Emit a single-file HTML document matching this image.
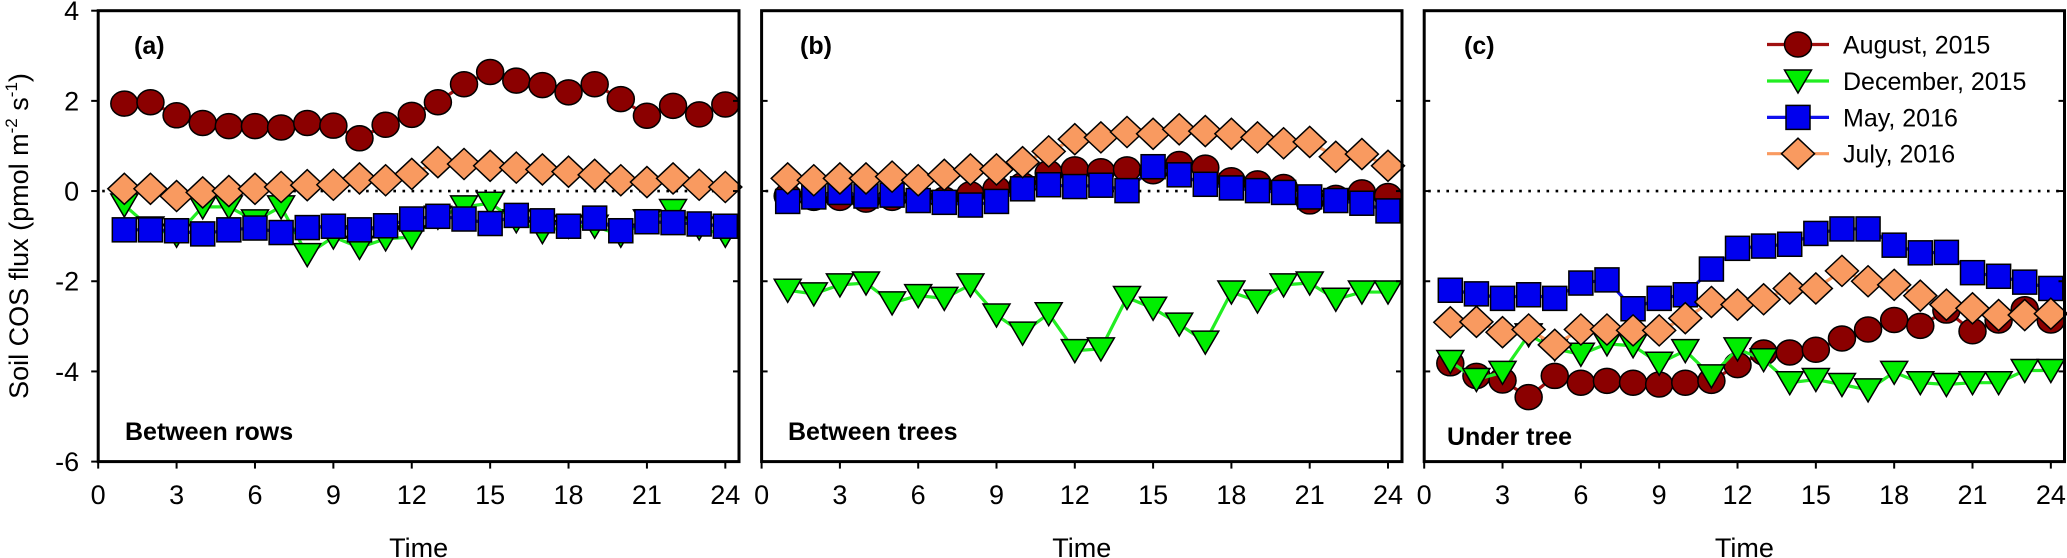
<!DOCTYPE html>
<html><head><meta charset="utf-8"><style>
html,body{margin:0;padding:0;background:#fff;}
svg{display:block;font-family:"Liberation Sans",Arial,sans-serif;}
</style></head><body>
<svg id="chart" width="2067" height="558" viewBox="0 0 2067 558" xmlns="http://www.w3.org/2000/svg"></svg>
<script>
const hours = [1,2,3,4,5,6,7,8,9,10,11,12,13,14,15,16,17,18,19,20,21,22,23,24];
const xTicks = [0,3,6,9,12,15,18,21,24];
const yTicks = [4,2,0,-2,-4,-6];
const seriesNames = ["August, 2015","December, 2015","May, 2016","July, 2016"];
// Panel a: Between rows
const aAug = [1.94,1.97,1.68,1.51,1.44,1.44,1.41,1.51,1.45,1.17,1.47,1.69,1.97,2.37,2.64,2.45,2.35,2.19,2.37,2.04,1.67,1.89,1.70,1.92];
const aDec = [-0.31,-0.82,-0.98,-0.35,-0.35,-0.66,-0.35,-1.41,-1.02,-1.25,-1.06,-1.02,-0.58,-0.35,-0.27,-0.66,-0.90,-0.78,-0.78,-0.98,-0.66,-0.43,-0.82,-0.98];
const aMay = [-0.86,-0.86,-0.88,-0.95,-0.86,-0.82,-0.92,-0.81,-0.78,-0.86,-0.77,-0.62,-0.56,-0.62,-0.72,-0.54,-0.66,-0.78,-0.60,-0.88,-0.68,-0.70,-0.73,-0.78];
const aJul = [0.05,0.05,-0.11,-0.03,0.00,0.05,0.09,0.13,0.14,0.28,0.24,0.38,0.64,0.60,0.56,0.52,0.48,0.43,0.36,0.24,0.20,0.28,0.14,0.09];
// Panel b: Between trees
const bAug = [-0.11,-0.15,-0.15,-0.19,-0.15,-0.15,-0.19,-0.07,0.05,0.13,0.40,0.48,0.44,0.48,0.44,0.60,0.52,0.24,0.17,0.09,-0.23,-0.15,-0.03,-0.11];
const bDec = [-2.20,-2.28,-2.08,-2.04,-2.48,-2.32,-2.38,-2.08,-2.75,-3.15,-2.72,-3.54,-3.50,-2.36,-2.60,-2.95,-3.35,-2.24,-2.44,-2.08,-2.04,-2.40,-2.24,-2.24];
const bMay = [-0.23,-0.13,-0.03,-0.11,-0.09,-0.21,-0.25,-0.31,-0.23,0.05,0.14,0.10,0.13,0.01,0.54,0.36,0.15,0.07,0.01,-0.03,-0.13,-0.21,-0.27,-0.44];
const bJul = [0.28,0.24,0.28,0.28,0.32,0.24,0.36,0.48,0.48,0.64,0.88,1.15,1.19,1.31,1.27,1.37,1.33,1.27,1.19,1.06,1.09,0.76,0.82,0.56];
// Panel c: Under tree
const cAug = [-3.82,-4.10,-4.20,-4.57,-4.10,-4.25,-4.21,-4.25,-4.29,-4.25,-4.21,-3.86,-3.58,-3.58,-3.52,-3.27,-3.07,-2.86,-2.99,-2.65,-3.11,-2.87,-2.62,-2.87];
const cDec = [-3.78,-4.18,-4.02,-3.19,-3.50,-3.62,-3.39,-3.43,-3.82,-3.54,-4.10,-3.50,-3.74,-4.25,-4.18,-4.29,-4.41,-4.02,-4.25,-4.29,-4.25,-4.25,-3.98,-3.98];
const cMay = [-2.20,-2.28,-2.38,-2.30,-2.38,-2.04,-1.97,-2.61,-2.38,-2.30,-1.73,-1.27,-1.22,-1.18,-0.94,-0.84,-0.84,-1.20,-1.37,-1.36,-1.81,-1.89,-2.02,-2.16];
const cJul = [-2.91,-2.90,-3.13,-3.07,-3.41,-3.07,-3.07,-3.09,-3.09,-2.82,-2.46,-2.52,-2.40,-2.16,-2.16,-1.77,-2.00,-2.08,-2.32,-2.52,-2.60,-2.75,-2.75,-2.72];

const NS="http://www.w3.org/2000/svg";
const svg=document.getElementById('chart');
function mk(tag,attrs,parent){const e=document.createElementNS(NS,tag);for(const k in attrs)e.setAttribute(k,attrs[k]);(parent||svg).appendChild(e);return e;}
const yTop=10.7,yBot=461.6,yMax=4,yMin=-6;
function yS(v){return yTop+(yMax-v)/(yMax-yMin)*(yBot-yTop);}
const colors={aug:"#8b0000",dec:"#00ee00",may:"#0000ee",jul:"#f99a60"};
const lineCol={aug:"#a01010",dec:"#22ee22",may:"#1010ee",jul:"#f99a60"};

function marker(kind,x,y,g){
  let m;
  if(kind==="aug") m=mk('ellipse',{cx:x,cy:y,rx:13.5,ry:12.5,fill:colors.aug,stroke:"#000","stroke-width":1.5},g);
  else if(kind==="dec") m=mk('polygon',{points:`${x-13.5},${y-11} ${x+13.5},${y-11} ${x},${y+12}`,fill:colors.dec,stroke:"#000","stroke-width":1.5},g);
  else if(kind==="may") m=mk('rect',{x:x-12,y:y-12,width:24,height:24,fill:colors.may,stroke:"#000","stroke-width":1.5},g);
  else m=mk('polygon',{points:`${x},${y-15.5} ${x+16.5},${y} ${x},${y+15.5} ${x-16.5},${y}`,fill:colors.jul,stroke:"#000","stroke-width":1.5},g);
  return m;
}

const panels=[
 {id:"a",x0:98.2,unit:26.13,right:739,label:"(a)",lx:134,site:"Between rows",sx:125,sy:440,data:{aug:aAug,dec:aDec,may:aMay,jul:aJul},yLabels:true},
 {id:"b",x0:761.6,unit:26.1,right:1402,label:"(b)",lx:800,site:"Between trees",sx:788,sy:440,data:{aug:bAug,dec:bDec,may:bMay,jul:bJul},yLabels:false},
 {id:"c",x0:1424.2,unit:26.11,right:2064.5,label:"(c)",lx:1464,site:"Under tree",sx:1447,sy:445,data:{aug:cAug,dec:cDec,may:cMay,jul:cJul},yLabels:false}
];

panels.forEach(p=>{
  const g=mk('g',{});
  
  
  const xS=v=>p.x0+v*p.unit;
  // zero dotted line
  const z=mk('line',{x1:p.x0+4,x2:p.right-2,y1:yS(0),y2:yS(0),stroke:"#000","stroke-width":2.6,"stroke-dasharray":"2.6 6.5"},g);
  
  
  // series
  ["aug","dec","may","jul"].forEach((k,si)=>{
    const sg=mk('g',{},g);
    
    
    const vals=p.data[k];
    const pts=hours.map((h,i)=>xS(h)+","+yS(vals[i])).join(" ");
    mk('polyline',{points:pts,fill:"none",stroke:lineCol[k],"stroke-width":3.2},sg);
    hours.forEach((h,i)=>{
      const m=marker(k,xS(h),yS(vals[i]),sg);
      
      
    });
  });
  // frame
  const fr=mk('rect',{x:p.x0,y:yTop,width:p.right-p.x0,height:yBot-yTop,fill:"none",stroke:"#000","stroke-width":3},g);
  
  
  // x ticks
  xTicks.forEach(t=>{
    mk('line',{x1:xS(t),x2:xS(t),y1:yBot,y2:yBot+7,stroke:"#000","stroke-width":2},g);
    const tx=mk('text',{x:xS(t),y:504,"font-size":27,"text-anchor":"middle",fill:"#000"},g);
    tx.textContent=t;
    
    
  });
  // y ticks
  yTicks.forEach(t=>{
    if(p.yLabels){
      mk('line',{x1:p.x0-7,x2:p.x0,y1:yS(t),y2:yS(t),stroke:"#000","stroke-width":2},g);
      const ty=mk('text',{x:p.x0-19,y:yS(t)+9.5,"font-size":27,"text-anchor":"end",fill:"#000"},g);
      ty.textContent=t;
      
      
    } else {
      mk('line',{x1:p.x0,x2:p.x0+6,y1:yS(t),y2:yS(t),stroke:"#000","stroke-width":2},g);
    }
    mk('line',{x1:p.right-6,x2:p.right,y1:yS(t),y2:yS(t),stroke:"#000","stroke-width":2},g);
  });
  const pl=mk('text',{x:p.lx,y:54,"font-size":25,"font-weight":"bold",fill:"#000"},g);
  pl.textContent=p.label;
  
  
  const sl=mk('text',{x:p.sx,y:p.sy,"font-size":25,"font-weight":"bold",fill:"#000"},g);
  sl.textContent=p.site;
  
  
  const xt=mk('text',{x:(p.x0+p.right)/2,y:557,"font-size":27,"text-anchor":"middle",fill:"#000"},g);
  xt.textContent="Time";
  
  
});

// y axis title
const yt=mk('text',{transform:"translate(28,236) rotate(-90)","font-size":27,"text-anchor":"middle",fill:"#000"});


yt.innerHTML='Soil COS flux (pmol m<tspan font-size="17" dy="-11">-2</tspan><tspan dy="11"> s</tspan><tspan font-size="17" dy="-11">-1</tspan><tspan dy="11">)</tspan>';

// legend
const lg=mk('g',{});


const legY=[44.5,81,117.4,153.7];
["aug","dec","may","jul"].forEach((k,i)=>{
  const eg=mk('g',{},lg);
  
  
  mk('line',{x1:1767,x2:1829,y1:legY[i],y2:legY[i],stroke:lineCol[k],"stroke-width":3.2},eg);
  marker(k,1798,legY[i],eg);
  const t=mk('text',{x:1843,y:legY[i]+9,"font-size":25,fill:"#000"},eg);
  t.textContent=seriesNames[i];
});
</script>
</body></html>
